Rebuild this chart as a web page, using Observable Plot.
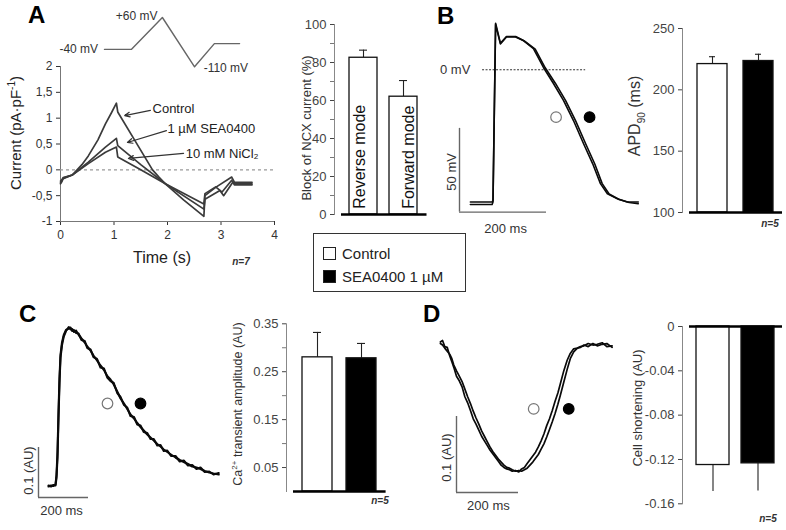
<!DOCTYPE html>
<html><head><meta charset="utf-8">
<script src="https://cdn.jsdelivr.net/npm/d3@7"></script>
<script src="https://cdn.jsdelivr.net/npm/@observablehq/plot@0.6"></script>
<style>
html,body{margin:0;padding:0;background:#fff;}
#fig{position:relative;width:786px;height:530px;background:#fff;overflow:hidden;}
#fig svg{position:absolute;overflow:visible;background:transparent;}
</style>
</head><body><div id="fig"></div>
<script>
// ================= DATA =================
// Panel A – voltage protocol (s, mV as drawn)
const protocolTime = [0, 0.5, 1.08, 1.68, 2.05, 2.52];
const protocolMv   = [-50, -50, 60, -110, -30, -30];

// Panel A – NCX current traces [time (s), current (pA/pF)]
const controlCurrent = [[0,-0.27],[0.02,-0.24],[0.05,-0.17],[0.22,-0.1],[0.4,0.1],[0.52,0.27],[0.7,0.58],[0.84,0.89],[0.95,1.1],[1.045,1.29],[1.07,1.12],[1.4,0.55],[1.72,0],[1.84,-0.14],[1.96,-0.27],[2.3,-0.58],[2.68,-0.9],[2.7,-0.5],[2.9,-0.34],[3.2,-0.14],[3.25,-0.24],[3.58,-0.24]];
const seaCurrent = [[0,-0.25],[0.02,-0.22],[0.05,-0.16],[0.22,-0.1],[0.52,0.15],[0.84,0.44],[1.045,0.61],[1.07,0.47],[1.5,0.1],[1.96,-0.27],[2.68,-0.76],[2.7,-0.57],[2.98,-0.4],[3.05,-0.5],[3.22,-0.24],[3.26,-0.27],[3.58,-0.27]];
const niCurrent = [[0,-0.22],[0.02,-0.2],[0.05,-0.15],[0.22,-0.1],[0.52,0.12],[0.84,0.34],[1.045,0.44],[1.07,0.25],[1.5,0.0],[1.96,-0.27],[2.68,-0.66],[2.7,-0.46],[2.9,-0.33],[3.02,-0.43],[3.2,-0.2],[3.25,-0.29],[3.58,-0.29]];
const currentLabels = ["Control", "1 µM SEA0400", "10 mM NiCl₂"];
const currentTicksX = [0, 1, 2, 3, 4];
const currentTicksY = [-1, -0.5, 0, 0.5, 1, 1.5, 2];

// Panel A – block of NCX current (%)
const modes = ["Reverse mode", "Forward mode"];
const blockValues = [82.5, 62];
const blockErrors = [4, 8.5];

// Conditions
const conditions = ["Control", "SEA0400 1 µM"];

// Panel B – action potentials [time (ms), Vm (mV)]
const apControl = [[25,-79],[75,-79],[77,-78],[83,27.8],[94,15.9],[108,19.9],[129,19.9],[147,17.5],[170,12.7],[193,1.4],[216,-8.2],[239,-18.3],[262,-30.3],[285,-44],[306,-56],[324,-68],[340,-74],[363,-77],[386,-79],[411,-79]];
const apSea = [[25,-80.5],[75,-80.5],[77,-79],[83,27],[94,15.5],[108,19.6],[129,19.6],[149,17.2],[174,12.4],[197,1.2],[221,-8.3],[244,-18.4],[267,-30.5],[290,-44.2],[311,-56.3],[328,-68],[344,-74.2],[367,-77.5],[390,-79.3],[411,-80]];
const apd90 = [221, 223.5];
const apd90Err = [6, 5.5];

// Panel C – Ca2+ transients [time (ms), AU]
const caControl = [[40,.024],[50,.022],[60,.025],[68,.024],[72,.04],[76,.08],[80,.16],[84,.23],[88,.28],[94,.305],[101,.322],[110,.333],[121,.341],[128,.336],[135,.337],[142,.331],[150,.334],[160,.326],[172,.318],[185,.31],[195,.302],[208,.294],[220,.284],[234,.274],[248,.264],[262,.255],[275,.243],[288,.236],[301,.226],[315,.212],[328,.198],[342,.188],[355,.177],[368,.166],[382,.158],[395,.149],[408,.141],[421,.134],[435,.126],[448,.12],[461,.114],[475,.107],[488,.102],[501,.096],[515,.091],[530,.086],[548,.08],[565,.075],[581,.071],[598,.067],[615,.062],[632,.06],[648,.057],[665,.053],[683,.05],[700,.048],[721,.046]];
const caSea = [[40,.022],[50,.024],[60,.023],[68,.026],[72,.045],[76,.09],[80,.17],[84,.24],[88,.285],[94,.31],[101,.325],[110,.335],[121,.338],[128,.34],[135,.333],[142,.335],[150,.329],[160,.328],[172,.315],[185,.313],[195,.299],[208,.296],[220,.281],[234,.277],[248,.26],[262,.258],[275,.24],[288,.233],[301,.229],[315,.209],[328,.201],[342,.185],[355,.18],[368,.163],[382,.161],[395,.146],[408,.144],[421,.131],[435,.129],[448,.117],[461,.117],[475,.104],[488,.105],[501,.093],[515,.094],[530,.083],[548,.083],[565,.072],[581,.074],[598,.064],[615,.065],[632,.057],[648,.06],[665,.051],[683,.052],[700,.046],[721,.049]];
const caAmp = [0.28, 0.278];
const caAmpErr = [0.052, 0.031];

// Panel D – cell shortening [time (ms), AU]
const shControl = [[-52,.198],[-45,.2],[-38,.192],[-30,.191],[-22,.18],[-15,.172],[-9,.165],[0,.153],[9,.147],[18,.139],[27,.126],[36,.118],[45,.108],[54,.097],[63,.09],[72,.082],[81,.074],[90,.068],[99,.062],[108,.056],[117,.051],[126,.046],[135,.041],[144,.036],[153,.033],[162,.031],[171,.03],[180,.028],[190,.029],[201,.027],[210,.031],[219,.033],[228,.038],[237,.043],[246,.048],[255,.053],[264,.06],[273,.068],[282,.077],[291,.088],[300,.097],[309,.108],[318,.12],[327,.131],[335,.143],[346,.16],[357,.174],[367,.183],[378,.189],[390,.19],[400,.192],[411,.193],[425,.196],[440,.194],[454,.195],[470,.197],[485,.192],[502,.193]];
const shSea = [[-52,.196],[-45,.194],[-38,.19],[-30,.186],[-22,.182],[-15,.176],[-9,.168],[0,.16],[9,.153],[18,.146],[27,.136],[36,.126],[45,.117],[54,.107],[63,.098],[72,.09],[81,.081],[90,.074],[99,.067],[108,.06],[117,.054],[126,.049],[135,.044],[144,.04],[153,.036],[162,.033],[171,.032],[180,.03],[190,.028],[201,.029],[210,.028],[219,.03],[228,.032],[237,.036],[246,.04],[255,.045],[264,.05],[273,.057],[282,.064],[291,.073],[300,.083],[309,.093],[318,.104],[327,.116],[335,.128],[346,.145],[357,.162],[367,.176],[378,.185],[390,.19],[400,.191],[411,.194],[425,.192],[440,.196],[454,.193],[470,.195],[485,.196],[502,.191]];
const shortening = [-0.125, -0.1235];
const shorteningErr = [0.024, 0.025];

// ================= HELPERS =================
const sans = '"Liberation Sans", Arial, Helvetica, sans-serif';
const fig = document.getElementById("fig");
function place(svg, left, top) { svg.style.left = left + "px"; svg.style.top = top + "px"; fig.appendChild(svg); }
function addText(html, x, y, o = {}) {
  const d = document.createElement("div");
  d.innerHTML = html;
  d.style.cssText = `position:absolute;left:${x}px;top:${y}px;white-space:nowrap;font-family:${sans};font-size:${o.size||12}px;color:${o.color||"#222"};font-weight:${o.weight||"normal"};font-style:${o.italic?"italic":"normal"};line-height:1;`;
  const tx = o.anchor === "start" ? "0" : o.anchor === "end" ? "-100%" : "-50%";
  d.style.transform = `translate(${tx},-50%)` + (o.rotate ? ` rotate(${o.rotate}deg)` : "");
  fig.appendChild(d);
}
function frameDomains(left, top, width, height, px0, x0, kx, py0, y0, ky) {
  return {
    x: [x0 + (left - px0) / kx, x0 + (left + width - px0) / kx],
    y: [y0 + (py0 - (top + height)) / ky, y0 + (py0 - top) / ky]
  };
}
const pairs = (arr, series) => arr.map(([t, v]) => ({t, v, series}));
const baseStyle = {fontFamily: sans, fontSize: "12px", color: "#333", overflow: "visible", background: "transparent"};
function textMarks(labels, size, fill) {
  return ["start", "middle", "end"].map((a) => Plot.text(labels.filter((d) => (d.a || "middle") === a),
    {x: "t", y: "v", text: "s", rotate: (d) => d.r || 0, textAnchor: a, fontSize: size, fill}));
}

// ================= PANEL A: protocol =================
{
  const L = 40, T = 0, W = 230, H = 80;
  const d = frameDomains(L, T, W, H, 104, 0, 53.6, 17, 60, 0.29);
  const proto = protocolTime.map((t, i) => ({t, v: protocolMv[i]}));
  const svg = Plot.plot({
    width: W, height: H, margin: 0, style: baseStyle,
    x: {domain: d.x, axis: null}, y: {domain: d.y, axis: null},
    marks: [
      Plot.line(proto, {x: "t", y: "v", stroke: "#666", strokeWidth: 1.4}),
      ...textMarks([{t: -0.12, v: -50, s: "-40 mV", a: "end"}, {t: 0.6, v: 66, s: "+60 mV"}, {t: 1.85, v: -116, s: "-110 mV", a: "start"}], 12, "#333")
    ]
  });
  place(svg, L, T);
}

// ================= PANEL A: current =================
{
  const table = [...pairs(controlCurrent, "Control"), ...pairs(seaCurrent, "SEA"), ...pairs(niCurrent, "Ni")];
  const notes = [
    {x1: 1.68, y1: 1.15, x2: 1.2, y2: 1.05, tx: 1.72, ty: 1.18, s: currentLabels[0]},
    {x1: 1.98, y1: 0.76, x2: 1.25, y2: 0.53, tx: 2.0, ty: 0.79, s: currentLabels[1]},
    {x1: 2.3, y1: 0.32, x2: 1.27, y2: 0.22, tx: 2.34, ty: 0.31, s: currentLabels[2]}
  ];
  const svg = Plot.plot({
    width: 290, height: 215, marginLeft: 60, marginRight: 16, marginTop: 11, marginBottom: 49,
    style: baseStyle,
    x: {domain: [0, 4]}, y: {domain: [-1, 2]},
    marks: [
      Plot.axisX({ticks: currentTicksX, tickSize: 4, tickPadding: 5, label: null, fontSize: 12, color: "#333", tickFormat: (d) => String(d)}),
      Plot.axisY({ticks: currentTicksY, tickSize: 4, tickPadding: 4, label: null, fontSize: 12, color: "#333",
        tickFormat: (d) => String(d).replace(".", ",")}),
      Plot.ruleX([0], {stroke: "#777"}),
      Plot.ruleY([-1], {stroke: "#777"}),
      Plot.ruleY([0], {stroke: "#999", strokeDasharray: "3,3", strokeWidth: 1.3}),
      Plot.line(table, {x: "t", y: "v", z: "series", stroke: "#3b3b3b", strokeWidth: 1.7}),
      Plot.arrow(notes, {x1: "x1", y1: "y1", x2: "x2", y2: "y2", stroke: "#333", strokeWidth: 1.2, headLength: 7, headAngle: 50}),
      Plot.text(notes, {x: "tx", y: "ty", text: "s", textAnchor: "start", fontSize: 13, fill: "#222"})
    ]
  });
  place(svg, 0, 55);
}

// ================= generic bar chart =================
function barChart({L, T, W, H, mL, mR, mT, mB, yDomain, cats, vals, errs, ticks, minor, fmt, pIn, pOut, base, caps, fills, inset}) {
  const data = cats.map((c, i) => ({c, v: vals[i], e: errs[i], f: fills[i]}));
  const marks = [
    Plot.axisY({ticks, tickSize: 4, tickPadding: 4, label: null, fontSize: 13, color: "#444", tickFormat: fmt}),
  ];
  if (minor) marks.push(Plot.axisY({ticks: minor, tickSize: 4, label: null, color: "#777", tickFormat: () => ""}));
  marks.push(
    Plot.frame({anchor: "left", stroke: "#888"}),
    Plot.ruleX(data, {x: "c", y1: "v", y2: (d) => d.v + (d.v < 0 ? -d.e : d.e), stroke: "#222", strokeWidth: 1.1}),
  );
  if (caps) marks.push(Plot.tickY(data, {x: "c", y: (d) => d.v + d.e, stroke: "#222", strokeWidth: 1.1, insetLeft: inset, insetRight: inset}));
  marks.push(
    Plot.barY(data, {x: "c", y1: base, y2: "v", fill: "f", stroke: "#111", strokeWidth: 1.3}),
    Plot.ruleY([base], {stroke: "#000", strokeWidth: 2.6, insetLeft: 7, insetRight: 6})
  );
  const svg = Plot.plot({
    width: W, height: H, marginLeft: mL, marginRight: mR, marginTop: mT, marginBottom: mB,
    style: baseStyle,
    x: {domain: cats, axis: null, paddingInner: pIn, paddingOuter: pOut},
    y: {domain: yDomain},
    color: {type: "identity"},
    marks
  });
  place(svg, L, T);
  return svg;
}

// Panel A bar (block of NCX)
{
  const L = 290, T = 10;
  const data = modes.map((m, i) => ({c: m, v: blockValues[i]}));
  barChart({L, T, W: 150, H: 215, mL: 44, mR: 7.5, mT: 14, mB: 11, yDomain: [0, 100],
    cats: modes, vals: blockValues, errs: blockErrors, ticks: [0, 20, 40, 60, 80, 100], minor: [10, 30, 50, 70, 90],
    fmt: (d) => String(d), pIn: 0.29, pOut: 0.375, base: 0, caps: true, fills: ["#fff", "#fff"], inset: 10});
  const svg2 = Plot.plot({
    width: 150, height: 215, marginLeft: 44, marginRight: 7.5, marginTop: 14, marginBottom: 11,
    style: baseStyle,
    x: {domain: modes, axis: null, paddingInner: 0.29, paddingOuter: 0.375},
    y: {domain: [0, 100], axis: null},
    marks: [Plot.text(data, {x: "c", y: 3, text: "c", rotate: -90, textAnchor: "start", fontSize: 16, fill: "#111"})]
  });
  place(svg2, L, T);
}

// Panel B bar (APD90)
barChart({L: 600, T: 10, W: 190, H: 230, mL: 82, mR: 2, mT: 18, mB: 28, yDomain: [100, 250],
  cats: conditions, vals: apd90, errs: apd90Err, ticks: [100, 150, 200, 250], minor: null,
  fmt: (d) => String(d), pIn: 0.348, pOut: 0.326, base: 100, caps: true, fills: ["#fff", "#000"], inset: 12});

// Panel C bar (Ca transient amplitude)
barChart({L: 200, T: 300, W: 200, H: 210, mL: 86, mR: 8.4, mT: 23.3, mB: 19, yDomain: [0, 0.35],
  cats: conditions, vals: caAmp, errs: caAmpErr, ticks: [0.05, 0.15, 0.25, 0.35], minor: [0.1, 0.2, 0.3],
  fmt: (d) => d.toFixed(2), pIn: 0.32, pOut: 0.36, base: 0, caps: true, fills: ["#fff", "#000"], inset: 11});

// Panel D bar (cell shortening)
barChart({L: 600, T: 310, W: 190, H: 210, mL: 82, mR: 2, mT: 16, mB: 16.7, yDomain: [-0.16, 0],
  cats: conditions, vals: shortening, errs: shorteningErr, ticks: [0, -0.04, -0.08, -0.12, -0.16], minor: null,
  fmt: (d) => d === 0 ? "0" : d.toFixed(2), pIn: 0.267, pOut: 0.311, base: 0, caps: false, fills: ["#fff", "#000"], inset: 12});

// ================= trace panels =================
function tracePanel({L, T, W, H, px0, kx, py0, ky, a, b, bars, circles, labels, width}) {
  const d = frameDomains(L, T, W, H, px0, 0, kx, py0, 0, ky);
  const table = [...pairs(a, "Control"), ...pairs(b, "SEA")];
  const svg = Plot.plot({
    width: W, height: H, margin: 0, style: baseStyle,
    x: {domain: d.x, axis: null}, y: {domain: d.y, axis: null},
    marks: [
      Plot.ruleX([0], {y1: bars.y0, y2: bars.y0 + bars.dy, stroke: "#666", strokeWidth: 1.4}),
      Plot.ruleY([bars.y0], {x1: 0, x2: bars.dx, stroke: "#666", strokeWidth: 1.4}),
      ...(bars.extra || []),
      Plot.line(table, {x: "t", y: "v", z: "series", stroke: "#0a0a0a", strokeWidth: width, curve: "linear"}),
      Plot.dot(circles, {x: "t", y: "v", r: 5.3, fill: (d) => d.c === "Control" ? "#fff" : "#000", stroke: (d) => d.c === "Control" ? "#777" : "#000", strokeWidth: 1.2}),
      ...textMarks(labels, 13, "#333")
    ]
  });
  place(svg, L, T);
}

// Panel B trace
tracePanel({L: 430, T: 5, W: 220, H: 235, px0: 459, kx: 0.435, py0: 69.3, ky: 1.674, a: apControl, b: apSea, width: 1.6,
  bars: {y0: -85, dy: 50, dx: 200, extra: [Plot.ruleY([0], {x1: 53, x2: 290, stroke: "#333", strokeDasharray: "2,1.5", strokeWidth: 1.1})]},
  circles: [{c: "Control", t: 222, v: -28.3}, {c: "SEA", t: 299, v: -28.3}],
  labels: [{t: 25, v: 0, s: "0 mV", a: "end"}, {t: 106, v: -95, s: "200 ms"}, {t: -18, v: -61, s: "50 mV", r: -90}]});

// Panel C trace
tracePanel({L: 10, T: 300, W: 230, H: 225, px0: 38, kx: 0.25, py0: 497, ky: 500, a: caControl, b: caSea, width: 2.1,
  bars: {y0: 0, dy: 0.1, dx: 200},
  circles: [{c: "Control", t: 276, v: 0.188}, {c: "SEA", t: 408, v: 0.188}],
  labels: [{t: 92, v: -0.026, s: "200 ms"}, {t: -40, v: 0.054, s: "0.1 (AU)", r: -90}]});

// Panel D trace
tracePanel({L: 425, T: 320, W: 210, H: 200, px0: 456, kx: 0.31, py0: 492, ky: 760, a: shControl, b: shSea, width: 1.7,
  bars: {y0: 0, dy: 0.1, dx: 200},
  circles: [{c: "Control", t: 249, v: 0.110}, {c: "SEA", t: 362, v: 0.110}],
  labels: [{t: 103, v: -0.017, s: "200 ms"}, {t: -32, v: 0.046, s: "0.1 (AU)", r: -90}]});

// ================= TEXT: letters, titles, legend =================
addText("A", 28, 15, {size: 24, weight: "bold", anchor: "start", color: "#000"});
addText("B", 437, 16, {size: 24, weight: "bold", anchor: "start", color: "#000"});
addText("C", 19, 314, {size: 24, weight: "bold", anchor: "start", color: "#000"});
addText("D", 423, 314, {size: 24, weight: "bold", anchor: "start", color: "#000"});

addText("Current (pA·pF<sup style='font-size:10px'>-1</sup>)", 15, 133, {size: 15, rotate: -90, color: "#222"});
addText("Time (s)", 162, 258, {size: 16, color: "#222"});
addText("n=7", 241, 262, {size: 10, italic: true, weight: "bold", color: "#333"});
addText("Block of NCX current (%)", 306, 128, {size: 13, rotate: -90, color: "#333"});
addText("APD<sub style='font-size:10px'>90</sub> (ms)", 637, 116, {size: 16, rotate: -90, color: "#333"});
addText("n=5", 770, 224, {size: 10, italic: true, weight: "bold", color: "#333"});
addText("Ca<sup style='font-size:8px'>2+</sup> transient amplitude (AU)", 238, 404, {size: 12.5, rotate: -90, color: "#333"});
addText("n=5", 380, 501, {size: 10, italic: true, weight: "bold", color: "#333"});
addText("Cell shortening (AU)", 637, 408, {size: 13, rotate: -90, color: "#333"});
addText("n=5", 768, 519, {size: 10, italic: true, weight: "bold", color: "#333"});

// legend
{
  const box = document.createElement("div");
  box.style.cssText = `position:absolute;left:313px;top:233px;width:151px;height:57px;border:1.5px solid #333;background:#fff;font-family:${sans};font-size:15px;color:#222;`;
  const items = conditions.map((c, i) => `<div style="position:absolute;left:9px;top:${i ? 34 : 11}px;display:flex;align-items:center;white-space:nowrap;">
    <span style="display:inline-block;width:11px;height:11px;border:1.3px solid #222;background:${i ? "#000" : "#fff"};margin-right:6px;"></span>${c}</div>`);
  box.innerHTML = items.join("");
  fig.appendChild(box);
}
</script>
</body></html>
